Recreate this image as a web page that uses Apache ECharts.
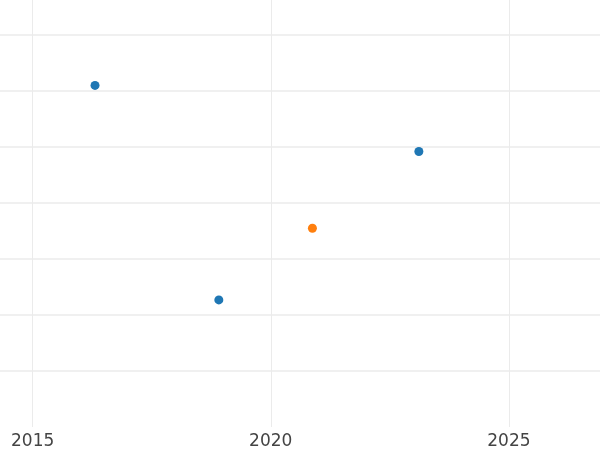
<!DOCTYPE html>
<html>
<head>
<meta charset="utf-8">
<script src="https://cdn.jsdelivr.net/npm/echarts@6/dist/echarts.min.js"></script>
<style>html,body{margin:0;padding:0;background:#fff}#chart{width:600px;height:450px}</style>
</head>
<body>
<div id="chart"></div>
<script>
// Data
const blueYears = [2016.31, 2018.91, 2023.11];
const blueValues = [6.10, 2.27, 4.92];
const orangeYears = [2020.875];
const orangeValues = [3.55];
const xTickLabels = ['2015', '2020', '2025'];

const chart = echarts.init(document.getElementById('chart'), null, {renderer: 'canvas'});
const gridColor = '#ebebeb';
chart.setOption({
  animation: false,
  backgroundColor: '#ffffff',
  grid: {left: -205.5, right: -147, top: -21, bottom: 23, containLabel: false, outerBoundsMode: 'none'},
  xAxis: {
    type: 'value', min: 2010, max: 2030, interval: 5,
    axisLine: {show: false}, axisTick: {show: false},
    axisLabel: {
      fontFamily: 'DejaVu Sans', fontSize: 17, color: '#444', margin: 6,
      formatter: v => xTickLabels.includes(String(v)) ? String(v) : ''
    },
    splitLine: {show: true, lineStyle: {color: gridColor, width: 1}}
  },
  yAxis: {
    type: 'value', min: 0, max: 8, interval: 1,
    axisLine: {show: false}, axisTick: {show: false}, axisLabel: {show: false},
    splitLine: {show: true, showMinLine: false, lineStyle: {color: gridColor, width: 1.5}}
  },
  series: [
    {name: 'A', type: 'scatter', symbolSize: 9, itemStyle: {color: '#1f77b4', opacity: 1},
     data: blueYears.map((x, i) => [x, blueValues[i]])},
    {name: 'B', type: 'scatter', symbolSize: 9, itemStyle: {color: '#ff7f0e', opacity: 1},
     data: orangeYears.map((x, i) => [x, orangeValues[i]])}
  ]
});
</script>
</body>
</html>
